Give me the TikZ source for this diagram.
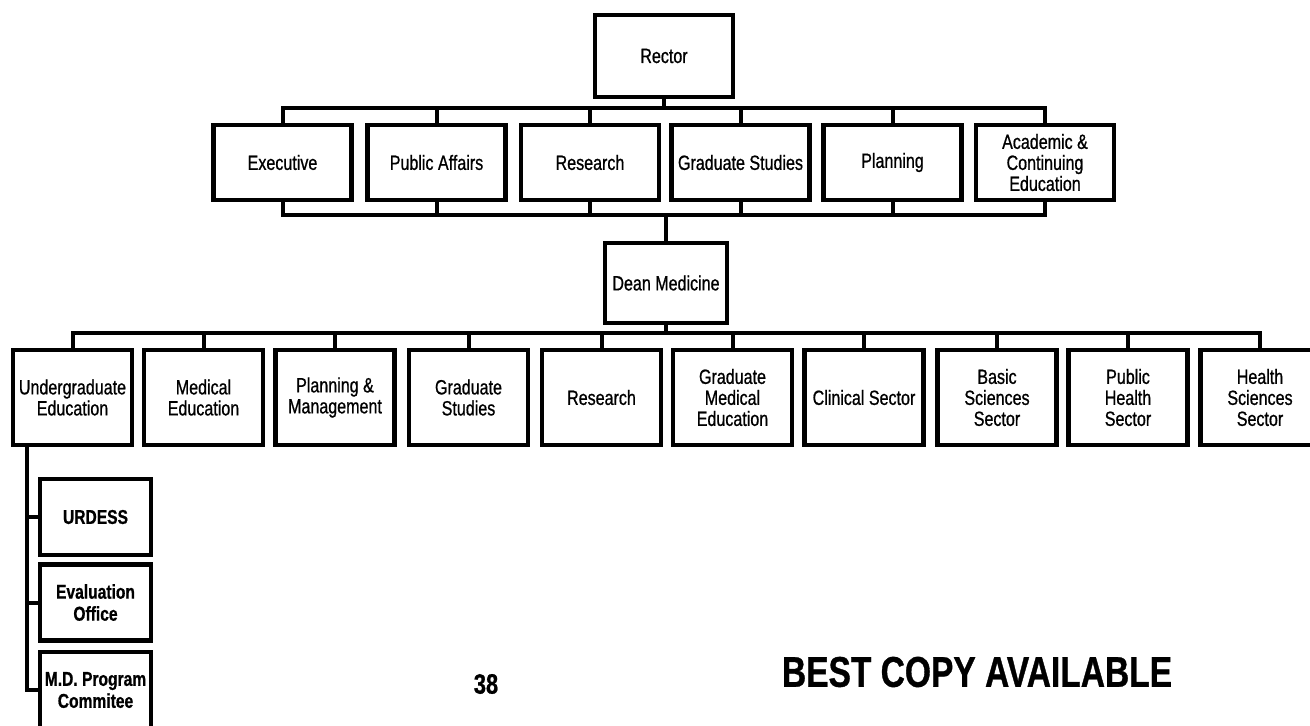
\documentclass[tikz,border=0pt]{standalone}
\usepackage{fontspec}
\setmainfont{Liberation Sans}[FakeStretch=0.78, FakeBold=0.8]
\usepackage{tikz}
\usetikzlibrary{positioning}

\tikzset{
  unit/.style={draw, line width=2.3pt, inner sep=1pt, align=center,
    font=\fontsize{10.3}{10.5}\selectfont},
  top/.style={unit, minimum width=69pt, minimum height=37.5pt},
  dept/.style={unit, minimum width=59.5pt, minimum height=47.5pt},
  office/.style={unit, minimum width=55.5pt, minimum height=38pt,
    font=\fontsize{10}{11}\selectfont\bfseries},
  link/.style={line width=2pt}
}

\begin{document}
\begin{tikzpicture}[x=0.5pt, y=-0.5pt]
\useasboundingbox (0,0) rectangle (1310,725);

% university level
\node[unit, minimum width=69pt, minimum height=41pt] (rector) at (664,56) {Rector};

\node[top] (exec)     at (282.5,162.5) {Executive};
\node[top] (pubaff)   at (436.5,162.5) {Public Affairs};
\node[top] (research) at (590,162.5)   {Research};
\node[top] (gradstud) at (740.5,162.5) {Graduate Studies};
\node[top] (planning) at (892.5,162.5) {Planning};
\node[top] (acadcont) at (1045,162.5)  {Academic \&\\Continuing\\Education};

\coordinate (bus1) at (0,108);
\coordinate (bus2) at (0,215);

\draw[link] (rector.south) -- (rector.south |- bus1);
\draw[link] (exec.north) -- (exec.north |- bus1) -- (acadcont.north |- bus1) -- (acadcont.north);
\draw[link] (pubaff.north) -- (pubaff.north |- bus1)
  (research.north) -- (research.north |- bus1)
  (gradstud.north) -- (gradstud.north |- bus1)
  (planning.north) -- (planning.north |- bus1);

\draw[link] (exec.south) -- (exec.south |- bus2) -- (acadcont.south |- bus2) -- (acadcont.south);
\draw[link] (pubaff.south) -- (pubaff.south |- bus2)
  (research.south) -- (research.south |- bus2)
  (gradstud.south) -- (gradstud.south |- bus2)
  (planning.south) -- (planning.south |- bus2);

% faculty of medicine
\node[unit, minimum width=61pt, minimum height=40pt] (dean) at (666,283) {Dean Medicine};
\draw[link] (dean.north |- bus2) -- (dean.north);

\node[dept] (undergrad) at (72.5,397.5)  {Undergraduate\\Education};
\node[dept] (mededu)    at (203.5,397.5) {Medical\\Education};
\node[dept] (planmgmt)  at (335,397.5)   {Planning \&\\Management};
\node[dept] (gradst)    at (468.5,397.5) {Graduate\\Studies};
\node[dept] (resmed)    at (601.5,397.5) {Research};
\node[dept] (gradmed)   at (732.5,397.5) {Graduate\\Medical\\Education};
\node[dept] (clinical)  at (864,397.5)   {Clinical Sector};
\node[dept] (basicsci)  at (997,397.5)   {Basic\\Sciences\\Sector};
\node[dept] (pubhealth) at (1128,397.5)  {Public\\Health\\Sector};
\node[dept] (healthsci) at (1260,397.5)  {Health\\Sciences\\Sector};

\coordinate (bus3) at (0,333);
\draw[link] (dean.south) -- (dean.south |- bus3);
\draw[link] (undergrad.north) -- (undergrad.north |- bus3) -- (healthsci.north |- bus3) -- (healthsci.north);
\draw[link] (mededu.north) -- (mededu.north |- bus3)
  (planmgmt.north) -- (planmgmt.north |- bus3)
  (gradst.north) -- (gradst.north |- bus3)
  (resmed.north) -- (resmed.north |- bus3)
  (gradmed.north) -- (gradmed.north |- bus3)
  (clinical.north) -- (clinical.north |- bus3)
  (basicsci.north) -- (basicsci.north |- bus3)
  (pubhealth.north) -- (pubhealth.north |- bus3);

% offices under undergraduate education
\node[office] (urdess) at (95.5,517) {URDESS};
\node[office] (evaloff) at (95.5,602.5) {Evaluation\\Office};
\node[office] (mdprog) at (95.5,690) {M.D. Program\\Commitee};

\coordinate (spine) at (27,0);
\draw[link] (undergrad.south -| spine) |- (mdprog.west);
\draw[link] (urdess.west -| spine) -- (urdess.west)
  (evaloff.west -| spine) -- (evaloff.west);

\node[font=\fontsize{14}{14}\selectfont\bfseries] (pageno) at (486,684) {38};
\node[font=\fontsize{21.5}{21.5}\selectfont\bfseries] (stamp) at (977,672) {BEST COPY AVAILABLE};

\end{tikzpicture}
\end{document}
